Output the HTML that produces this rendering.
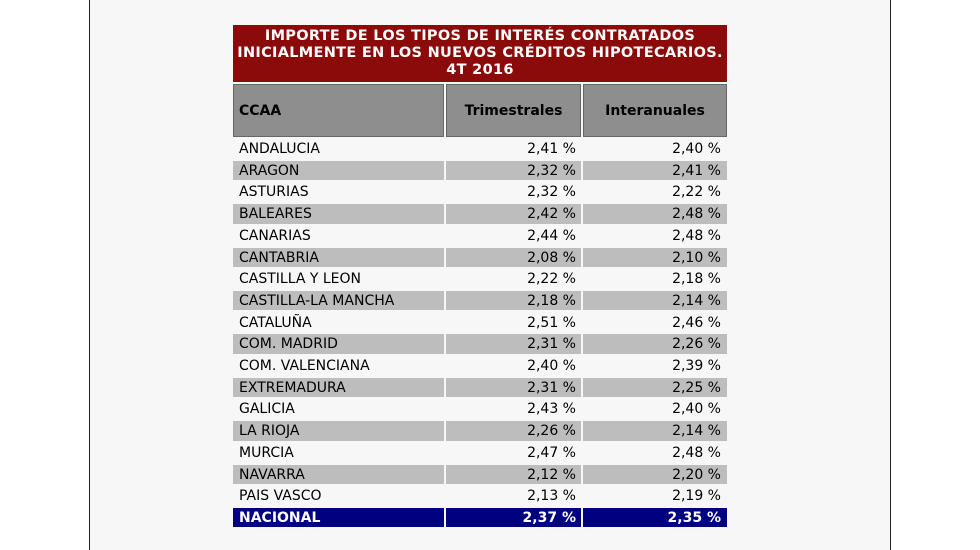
<!DOCTYPE html>
<html><head><style>
body{margin:0;width:980px;height:550px;background:#fff;position:relative;overflow:hidden;font-family:"DejaVu Sans","Liberation Sans",sans-serif;}
.panel{position:absolute;left:89px;top:0;width:800px;height:550px;background:#f7f7f7;border-left:1px solid #222;border-right:1px solid #222;}
.c{position:absolute;box-sizing:border-box;font-size:14px;color:#000;white-space:nowrap;}
.title{position:absolute;left:233px;top:25px;width:494px;height:57px;background:#8b0a0a;color:#fff;font-weight:bold;font-size:14.5px;letter-spacing:0.3px;text-align:center;line-height:17px;padding-top:3px;box-sizing:border-box;white-space:nowrap;}
.hd{background:#8e8e8e;font-weight:bold;border:1px solid #666;}
.g{background:#bdbdbd;}
.n{background:#000080;color:#fff;font-weight:bold;}
</style></head><body>
<div class="panel"></div>
<div class="title">IMPORTE DE LOS TIPOS DE INTERÉS CONTRATADOS<br>INICIALMENTE EN LOS NUEVOS CRÉDITOS HIPOTECARIOS.<br>4T 2016</div>
<div class="c hd" style="left:233px;top:84px;width:211px;height:53px;line-height:53px;padding-left:5px">CCAA</div>
<div class="c hd" style="left:446px;top:84px;width:135px;height:53px;line-height:53px;text-align:center">Trimestrales</div>
<div class="c hd" style="left:583px;top:84px;width:144px;height:53px;line-height:53px;text-align:center">Interanuales</div>
<div id="rows"></div>
<script>
var d=[["ANDALUCIA","2,41","2,40"],["ARAGON","2,32","2,41"],["ASTURIAS","2,32","2,22"],["BALEARES","2,42","2,48"],["CANARIAS","2,44","2,48"],["CANTABRIA","2,08","2,10"],["CASTILLA Y LEON","2,22","2,18"],["CASTILLA-LA MANCHA","2,18","2,14"],["CATALUÑA","2,51","2,46"],["COM. MADRID","2,31","2,26"],["COM. VALENCIANA","2,40","2,39"],["EXTREMADURA","2,31","2,25"],["GALICIA","2,43","2,40"],["LA RIOJA","2,26","2,14"],["MURCIA","2,47","2,48"],["NAVARRA","2,12","2,20"],["PAIS VASCO","2,13","2,19"],["NACIONAL","2,37","2,35"]];
var h="";
d.forEach(function(r,i){var t=138+i*21.7;var cl=i==17?"n":(i%2?"g":"");
h+='<div class="c '+cl+'" style="left:233px;top:'+(t+1)+'px;width:211px;height:19.5px;line-height:21.5px;padding-left:6px">'+r[0]+'</div>';
h+='<div class="c '+cl+'" style="left:446px;top:'+(t+1)+'px;width:135px;height:19.5px;line-height:21.5px;text-align:right;padding-right:5px">'+r[1]+' %</div>';
h+='<div class="c '+cl+'" style="left:583px;top:'+(t+1)+'px;width:144px;height:19.5px;line-height:21.5px;text-align:right;padding-right:6px">'+r[2]+' %</div>';});
document.getElementById("rows").innerHTML=h;
</script>
</body></html>
